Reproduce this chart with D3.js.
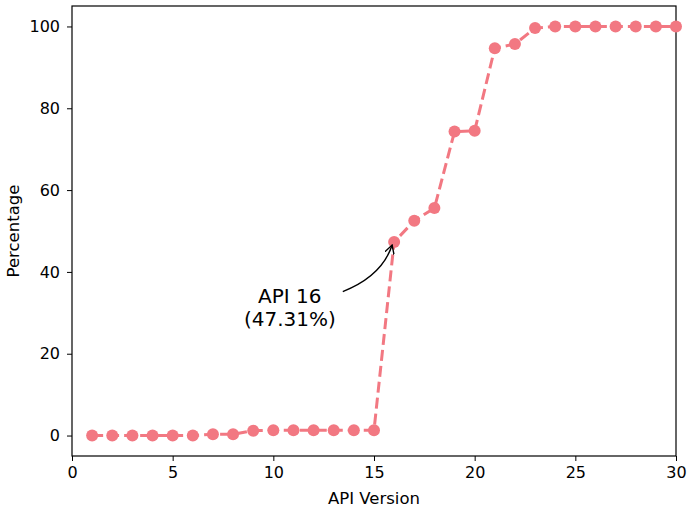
<!DOCTYPE html>
<html>
<head>
<meta charset="utf-8">
<script src="https://cdn.jsdelivr.net/npm/d3@7"></script>
<style>
  body { margin: 0; background: #fff; }
  text { font-family: "DejaVu Sans", sans-serif; }
</style>
</head>
<body>
<svg id="chart" width="687" height="512"></svg>
<script>
// API levels and cumulative share (%)
const apiLevels = d3.range(1, 31);
const percentages = [0, 0, 0, 0, 0, 0, 0.3, 0.3, 1.2, 1.3,
                     1.3, 1.3, 1.3, 1.3, 1.3, 47.31, 52.5, 55.6, 74.3, 74.5,
                     94.7, 95.7, 99.6, 100, 100, 100, 100, 100, 100, 100];
const xTicks = [0, 5, 10, 15, 20, 25, 30];
const yTicks = [0, 20, 40, 60, 80, 100];
const note = ["API 16", "(47.31%)"];

const color = "#f27882";
const margin = { top: 6, right: 11, bottom: 56, left: 72 };
const width = 687 - margin.left - margin.right;
const height = 512 - margin.top - margin.bottom;

const svg = d3.select("#chart");
const g = svg.append("g").attr("transform", `translate(${margin.left},${margin.top})`);

const x = d3.scaleLinear().domain([0, 30]).range([0, width]);
const y = d3.scaleLinear().domain([-5, 105]).range([height, 0]);

// axes
const xAxis = g.append("g")
    .attr("transform", `translate(0,${height})`)
    .call(d3.axisBottom(x).tickValues(xTicks).tickSizeOuter(0).tickSize(5).tickPadding(6));
const yAxis = g.append("g")
    .call(d3.axisLeft(y).tickValues(yTicks).tickSizeOuter(0).tickSize(5).tickPadding(7));
[xAxis, yAxis].forEach(a => {
  a.selectAll("text").style("font-size", "16px").attr("fill", "#000");
  a.selectAll("line").attr("stroke", "#000").attr("stroke-width", 1);
  a.select(".domain").remove();
});

// frame
g.append("rect")
    .attr("width", width).attr("height", height)
    .attr("fill", "none").attr("stroke", "#000").attr("stroke-width", 1.2);

// line
const line = d3.line().x((d, i) => x(apiLevels[i])).y(d => y(d));
g.append("path")
    .datum(percentages)
    .attr("d", line)
    .attr("fill", "none")
    .attr("stroke", color)
    .attr("stroke-width", 3)
    .attr("stroke-dasharray", "11,5");

g.selectAll("circle")
    .data(percentages)
    .enter()
    .append("circle")
    .attr("cx", (d, i) => x(apiLevels[i]))
    .attr("cy", d => y(d))
    .attr("r", 6)
    .attr("fill", color);

// annotation
const tx = x(10.82), ty = y(32.4);
g.append("text")
    .attr("x", tx).attr("y", ty)
    .attr("text-anchor", "middle")
    .style("font-size", "20px")
    .selectAll("tspan")
    .data(note)
    .enter()
    .append("tspan")
    .attr("x", tx)
    .attr("dy", (d, i) => i === 0 ? 0 : "1.15em")
    .text(d => d);

svg.append("defs").append("marker")
    .attr("id", "arrow")
    .attr("viewBox", "0 0 10 10")
    .attr("refX", 9).attr("refY", 5)
    .attr("markerWidth", 10).attr("markerHeight", 10)
    .attr("markerUnits", "userSpaceOnUse")
    .attr("orient", "auto")
    .append("path")
    .attr("d", "M0,0 L9,5 L0,10")
    .attr("fill", "none")
    .attr("stroke", "#000")
    .attr("stroke-width", 1.4);

const ax0 = x(13.45), ay0 = y(35.2);
const ax1 = x(16) - 2, ay1 = y(47.31) + 3;
g.append("path")
    .attr("d", `M${ax0},${ay0} Q${x(15.4)},${y(39)} ${ax1},${ay1}`)
    .attr("fill", "none")
    .attr("stroke", "#000")
    .attr("stroke-width", 1.4)
    .attr("marker-end", "url(#arrow)");

// axis labels
svg.append("text")
    .attr("x", margin.left + width / 2)
    .attr("y", 504)
    .attr("text-anchor", "middle")
    .style("font-size", "16.5px")
    .text("API Version");

svg.append("text")
    .attr("transform", `translate(19,${margin.top + height / 2}) rotate(-90)`)
    .attr("text-anchor", "middle")
    .style("font-size", "16.5px")
    .text("Percentage");
</script>
</body>
</html>
